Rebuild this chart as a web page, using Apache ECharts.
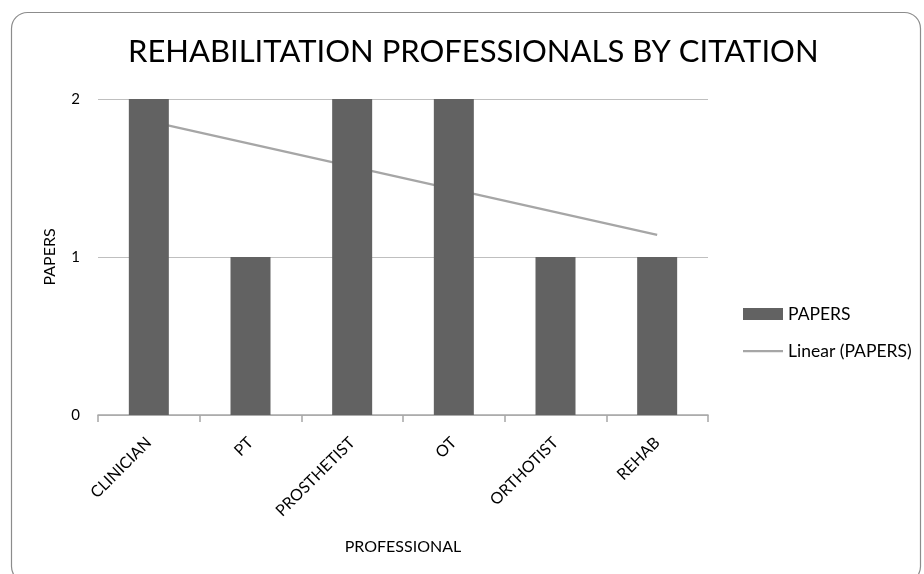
<!DOCTYPE html>
<html>
<head>
<meta charset="utf-8">
<script src="https://cdn.jsdelivr.net/npm/echarts@6/dist/echarts.min.js"></script>
<style>
html,body{margin:0;padding:0;background:#fff;}
#chart{width:924px;height:574px;}
</style>
</head>
<body>
<div id="chart"></div>
<script>
// data
var categories = ['CLINICIAN', 'PT', 'PROSTHETIST', 'OT', 'ORTHOTIST', 'REHAB'];
var papers = [2, 1, 2, 2, 1, 1];
// linear trendline, read at first and last category
var trendline = [1.86, null, null, null, null, 1.14];
var yTicks = [0, 1, 2];

var font = 'Lato';
var chart = echarts.init(document.getElementById('chart'));

var option = {
  animation: false,
  textStyle: { fontFamily: font },
  title: {
    text: 'REHABILITATION PROFESSIONALS BY CITATION',
    left: 123,
    top: 31,
    textStyle: { fontFamily: font, fontSize: 31, fontWeight: 'normal', color: '#000' }
  },
  graphic: [{
    type: 'rect',
    shape: { x: 11.5, y: 12.5, width: 909, height: 570, r: 16 },
    style: { fill: 'none', stroke: '#8c8c8c', lineWidth: 1.2 },
    silent: true
  }],
  legend: {
    orient: 'vertical',
    left: 738,
    top: 300,
    itemWidth: 40,
    itemHeight: 12,
    itemGap: 19,
    textStyle: { fontFamily: font, fontSize: 17.5, color: '#000' },
    data: [
      { name: 'PAPERS', icon: 'rect' },
      { name: 'Linear (PAPERS)', icon: 'path://M0,0h40v0.01h-40z M0,5h40v2.2h-40z M0,11.99h40v0.01h-40z' }
    ]
  },
  grid: { left: 98, right: 216, top: 99, bottom: 159 },
  xAxis: [{
    type: 'category',
    data: categories,
    name: 'PROFESSIONAL',
    nameLocation: 'middle',
    nameGap: 124,
    nameTextStyle: { fontFamily: font, fontSize: 16, color: '#000' },
    axisLine: { lineStyle: { color: '#a6a6a6', width: 1.5 } },
    axisTick: { show: true, length: 7, lineStyle: { color: '#a6a6a6', width: 1.5 } },
    axisLabel: { rotate: 45, fontFamily: font, fontSize: 16, color: '#000', margin: 25 }
  }, {
    type: 'category',
    data: categories,
    position: 'bottom',
    axisLine: { show: false },
    axisTick: { show: true, alignWithLabel: true, inside: true, length: 4, lineStyle: { color: '#a6a6a6', width: 1.5 } },
    axisLabel: { show: false }
  }],
  yAxis: {
    type: 'value',
    min: yTicks[0],
    max: yTicks[yTicks.length - 1],
    interval: 1,
    name: 'PAPERS',
    nameLocation: 'middle',
    nameGap: 40,
    nameTextStyle: { fontFamily: font, fontSize: 16, color: '#000' },
    axisLine: { show: false },
    axisTick: { show: false },
    axisLabel: { fontFamily: font, fontSize: 15, color: '#000', margin: 18 },
    splitLine: { lineStyle: { color: '#bfbfbf', width: 1.2 } }
  },
  series: [{
    name: 'PAPERS',
    type: 'bar',
    data: papers,
    barWidth: 40,
    z: 3,
    itemStyle: { color: '#626262' }
  }, {
    name: 'Linear (PAPERS)',
    type: 'line',
    data: trendline,
    connectNulls: true,
    symbol: 'none',
    z: 2,
    lineStyle: { color: '#a6a6a6', width: 2.2 },
    itemStyle: { color: '#a6a6a6' }
  }]
};

chart.setOption(option);
</script>
</body>
</html>
